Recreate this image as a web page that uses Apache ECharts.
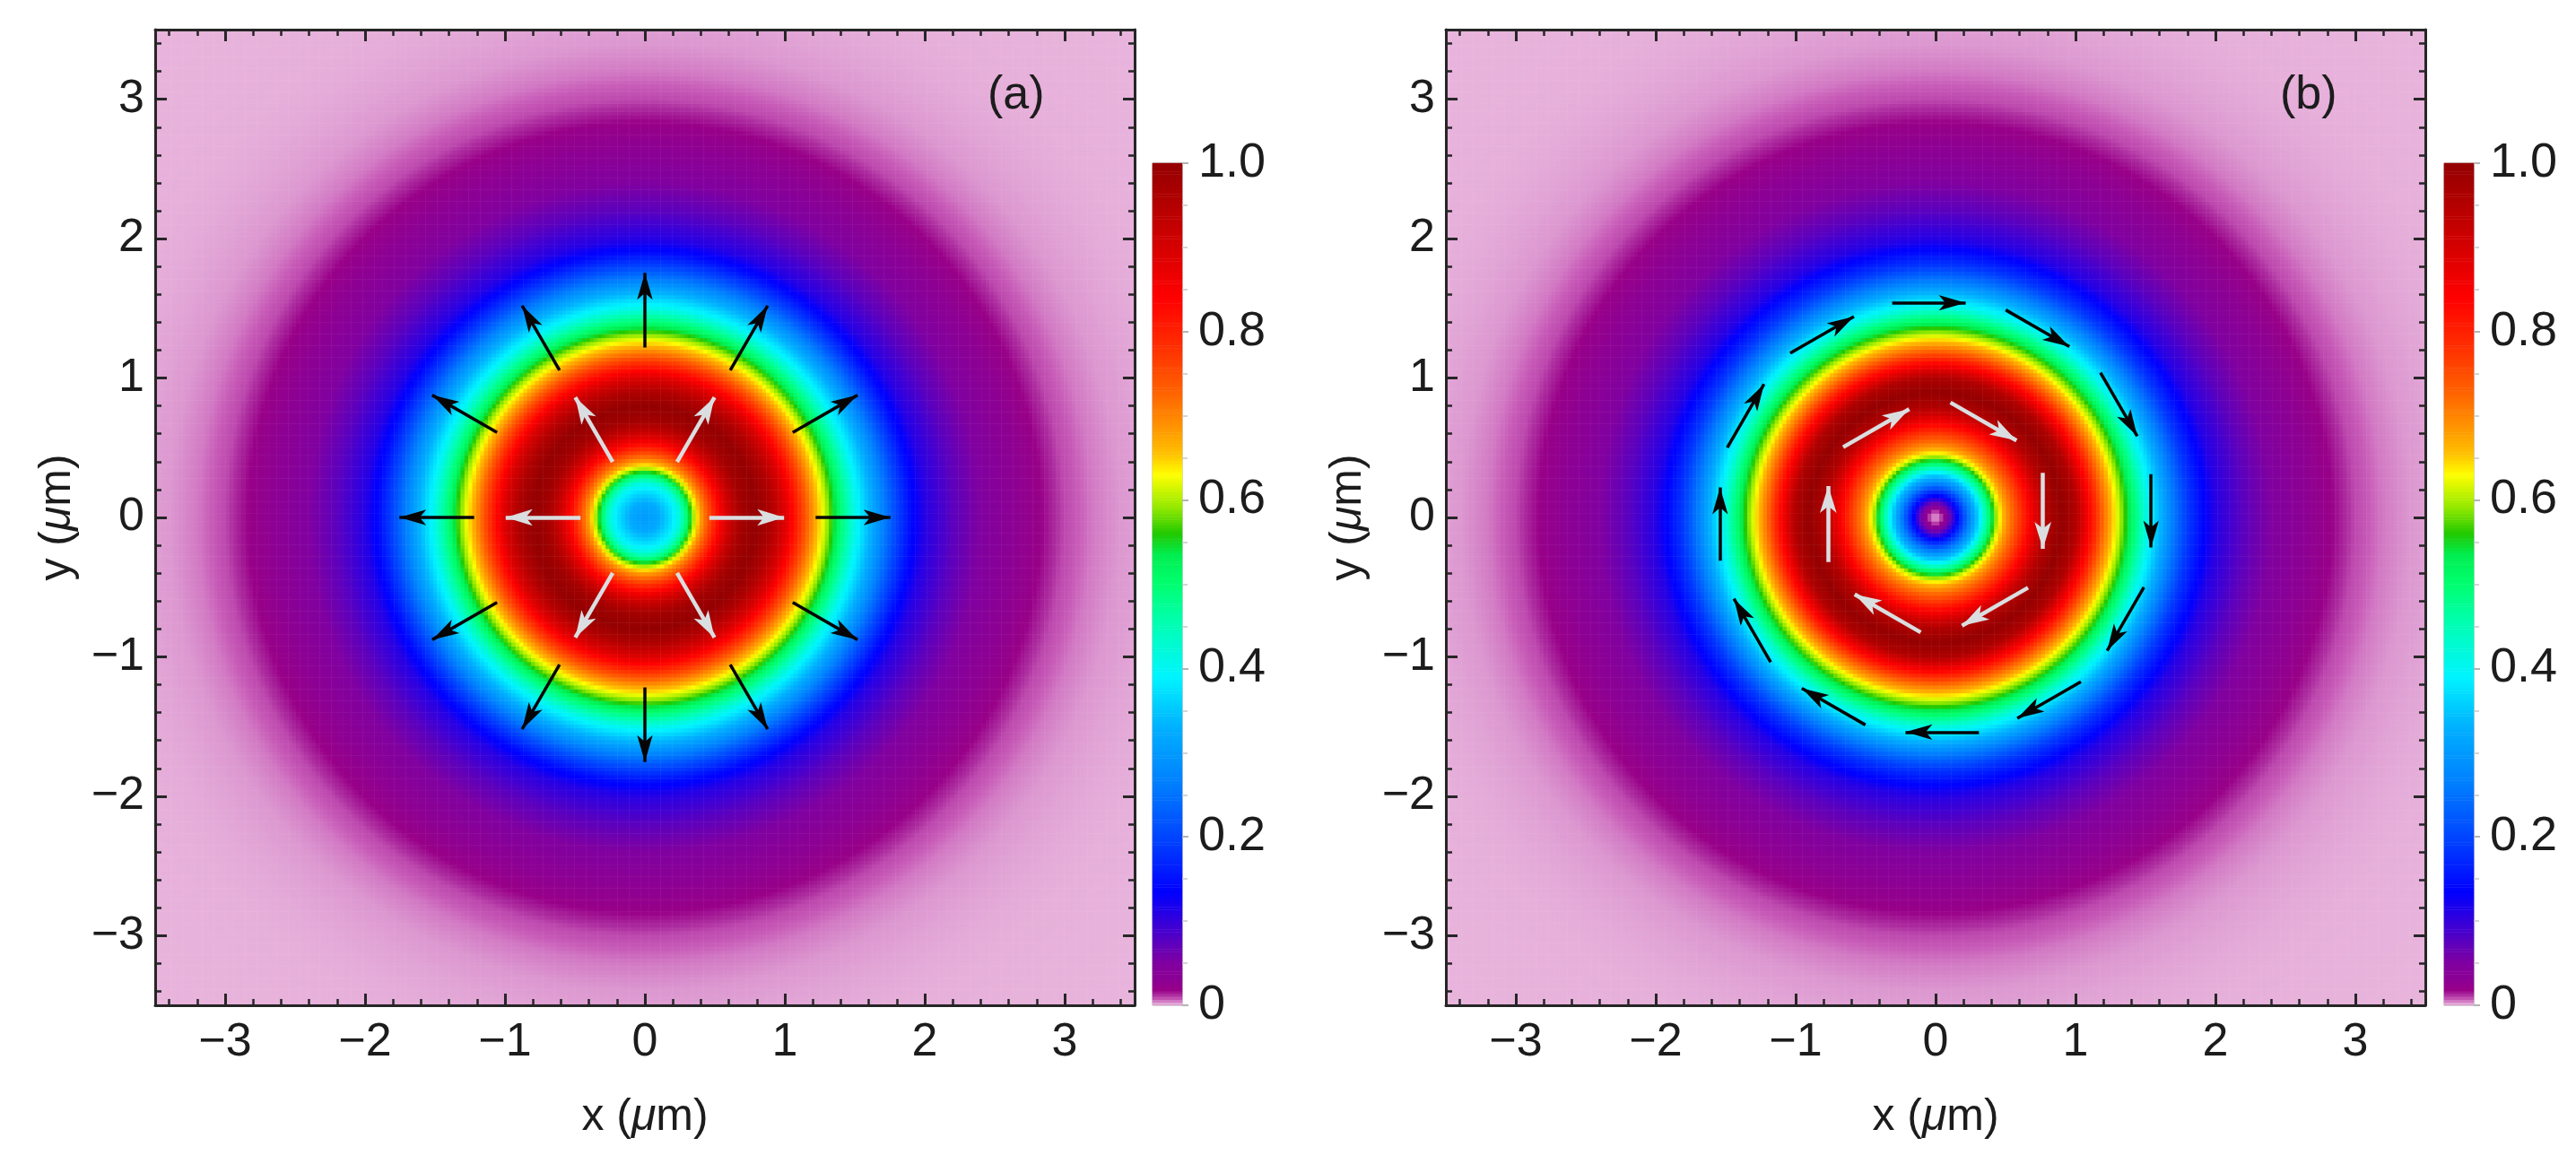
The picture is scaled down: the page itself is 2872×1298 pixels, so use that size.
<!DOCTYPE html>
<html>
<head>
<meta charset="utf-8">
<script src="https://cdn.jsdelivr.net/npm/echarts@6/dist/echarts.min.js"></script>
<style>
html, body { margin: 0; padding: 0; background: #fff; }
#chart { width: 2872px; height: 1298px; }
</style>
</head>
<body>
<div id="chart"></div>
<script>
// radial intensity profiles (r in um, normalised intensity)
var radiusA = [0, 0.1, 0.2, 0.25, 0.3, 0.35, 0.4, 0.45, 0.5, 0.55, 0.6, 0.65, 0.7, 0.8, 0.9, 1.0, 1.1, 1.2, 1.3, 1.4, 1.5, 1.6, 1.7, 1.8, 1.9, 2.0, 2.2, 2.4, 2.6, 2.8, 2.9, 3.0, 3.2, 3.4, 3.6, 3.8, 4.0, 4.4, 5.0];
var intensityA = [0.30, 0.32, 0.38, 0.42, 0.50, 0.60, 0.68, 0.74, 0.80, 0.86, 0.91, 0.95, 0.98, 1.0, 0.96, 0.89, 0.79, 0.69, 0.60, 0.50, 0.41, 0.34, 0.27, 0.20, 0.145, 0.11, 0.075, 0.05, 0.032, 0.02, 0.014, 0.009, 0.005, 0.003, 0.0018, 0.001, 0.0005, 0.0002, 0];

var radiusB = [0, 0.05, 0.1, 0.15, 0.2, 0.25, 0.3, 0.35, 0.4, 0.45, 0.5, 0.6, 0.7, 0.75, 0.8, 0.9, 1.0, 1.05, 1.1, 1.2, 1.3, 1.4, 1.5, 1.6, 1.7, 1.8, 1.9, 2.0, 2.2, 2.4, 2.6, 2.8, 2.9, 3.0, 3.2, 3.4, 3.6, 3.8, 4.0, 4.4, 5.0];
var intensityB = [0, 0.012, 0.06, 0.13, 0.20, 0.28, 0.35, 0.44, 0.53, 0.62, 0.68, 0.77, 0.87, 0.92, 0.96, 1.0, 0.96, 0.90, 0.84, 0.72, 0.62, 0.52, 0.42, 0.34, 0.26, 0.19, 0.145, 0.11, 0.075, 0.05, 0.032, 0.02, 0.014, 0.009, 0.005, 0.003, 0.0018, 0.001, 0.0005, 0.0002, 0];

// polarisation arrows
var outerAnglesA = [0, 30, 60, 90, 120, 150, 180, 210, 240, 270, 300, 330];
var outerRadiiA = [1.22, 1.85];          // tail, tip
var innerAnglesA = [0, 60, 120, 180, 240, 300];
var innerRadiiA = [0.46, 1.09];
var outerAnglesB = [90, 60, 30, 0, -30, -60, -90, -120, -150, 180, 150, 120];
var outerDistB = 1.54, outerHalfB = 0.31;  // distance of arrow centre, half length
var innerAnglesB = [60, 0, -60, -120, 180, 120];
var innerDistB = 0.767, innerHalfB = 0.32;

// ticks
var majorTicks = [-3, -2, -1, 0, 1, 2, 3];
var minorTicks = [-3.4, -3.2, -3, -2.8, -2.6, -2.4, -2.2, -2, -1.8, -1.6, -1.4, -1.2, -1, -0.8, -0.6, -0.4, -0.2, 0,
  0.2, 0.4, 0.6, 0.8, 1, 1.2, 1.4, 1.6, 1.8, 2, 2.2, 2.4, 2.6, 2.8, 3, 3.2, 3.4];

// colour scale
var colorStops = [
  [0, '#e8b4dc'], [0.003, '#dc98d0'], [0.007, '#c85cb8'], [0.012, '#ac2c9f'], [0.018, '#980088'],
  [0.03, '#8c0094'], [0.05, '#8000a0'], [0.09, '#4400d0'], [0.135, '#0000ff'], [0.195, '#0040ff'], [0.265, '#0080ff'],
  [0.33, '#00b0ff'], [0.39, '#00f4ff'], [0.455, '#00ffb0'], [0.50, '#00ff70'], [0.535, '#00ee50'],
  [0.56, '#20c800'], [0.59, '#90e800'], [0.63, '#ffff00'], [0.655, '#ffc000'], [0.69, '#ff9000'],
  [0.73, '#ff6000'], [0.78, '#ff3000'], [0.84, '#ff0000'], [0.92, '#c80000'], [1, '#940000']
];

var FONT = '"Liberation Sans", Arial, sans-serif';
var INK = '#1c1c1c';
var N = 250;       // heatmap cells per side
var BAR_N = 300;   // colour bar cells

function hex(c) { return [parseInt(c.substr(1, 2), 16), parseInt(c.substr(3, 2), 16), parseInt(c.substr(5, 2), 16)]; }
function paletteColor(v) {
  for (var k = 1; k < colorStops.length; k++) {
    if (v <= colorStops[k][0]) {
      var a = colorStops[k - 1], b = colorStops[k];
      var t = (v - a[0]) / (b[0] - a[0]);
      var ca = hex(a[1]), cb = hex(b[1]);
      return 'rgb(' + [0, 1, 2].map(function (i) { return Math.round(ca[i] + (cb[i] - ca[i]) * t); }).join(',') + ')';
    }
  }
  return colorStops[colorStops.length - 1][1];
}
var palette = [];
for (var p = 0; p <= 1000; p++) palette.push(paletteColor(p / 1000));

function profile(rs, vs, r) {
  if (r >= rs[rs.length - 1]) return vs[vs.length - 1];
  for (var k = 1; k < rs.length; k++) {
    if (r <= rs[k]) {
      var t = (r - rs[k - 1]) / (rs[k] - rs[k - 1]);
      return vs[k - 1] + (vs[k] - vs[k - 1]) * t;
    }
  }
}

var cats = [];
for (var c = 0; c < N; c++) cats.push(String(c));
function fieldData(rs, vs) {
  var out = [];
  for (var i = 0; i < N; i++) {
    var x = -3.5 + (i + 0.5) * 7 / N;
    for (var j = 0; j < N; j++) {
      var y = -3.5 + (j + 0.5) * 7 / N;
      out.push([i, j, profile(rs, vs, Math.sqrt(x * x + y * y))]);
    }
  }
  return out;
}
var barCats = [];
var barData = [];
for (var b = 0; b < BAR_N; b++) { barCats.push(String(b)); barData.push([0, b, (b + 0.5) / BAR_N]); }

var TIP = 0.095; // half of the arrow head length, in um
function rad(a) { return a * Math.PI / 180; }
function radialArrows(angles, r) {
  return angles.map(function (a) {
    var c = Math.cos(rad(a)), s = Math.sin(rad(a));
    return { coords: [[r[0] * c, r[0] * s], [(r[1] - TIP) * c, (r[1] - TIP) * s]] };
  });
}
function tangentArrows(angles, d, half) {
  return angles.map(function (a) {
    var c = Math.cos(rad(a)), s = Math.sin(rad(a));
    var mx = d * c, my = d * s, dx = s, dy = -c;
    return { coords: [[mx - half * dx, my - half * dy], [mx + (half - TIP) * dx, my + (half - TIP) * dy]] };
  });
}

function fmt(v) { return v < 0 ? '\u2212' + Math.abs(v) : String(v); }
var lineCol = '#262626';
var labelStyle = { fontSize: 52, fontFamily: FONT, color: INK };
var nameRich = {
  t: { fontSize: 50, fontFamily: FONT, color: INK },
  m: { fontSize: 50, fontFamily: FONT, color: INK, fontStyle: 'italic' }
};

function valueAxis(g, pos, ticks, len, labels, name) {
  var horiz = pos === 'bottom' || pos === 'top';
  var ax = {
    type: 'value', gridIndex: g, position: pos, min: -3.5, max: 3.5, z: 10,
    axisLine: { show: len > 8, onZero: false, lineStyle: { color: lineCol, width: 3 } },
    axisTick: { show: true, inside: true, length: len, customValues: ticks, lineStyle: { color: lineCol, width: len > 8 ? 3 : 2.5 } },
    axisLabel: { show: labels, customValues: ticks, formatter: fmt, margin: horiz ? 16 : 12 },
    splitLine: { show: false }
  };
  Object.assign(ax.axisLabel, labelStyle);
  if (name) {
    ax.name = '{t|' + name + ' (}{m|\u03bc}{t|m)}';
    ax.nameLocation = 'middle';
    ax.nameGap = horiz ? 100 : 84;
    ax.nameTextStyle = { rich: nameRich };
  }
  return ax;
}

var grids = [
  { left: 173, top: 33, width: 1092, height: 1088 },
  { left: 1612, top: 33, width: 1092, height: 1088 },
  { left: 1285, top: 182, width: 33, height: 939, show: true, borderColor: '#a8a8a8', borderWidth: 1 },
  { left: 2725, top: 182, width: 33, height: 939, show: true, borderColor: '#a8a8a8', borderWidth: 1 }
];

var xAxes = [], yAxes = [];
[0, 1].forEach(function (g) {
  xAxes.push({ type: 'category', gridIndex: g, data: cats, show: false });
  xAxes.push(valueAxis(g, 'bottom', majorTicks, 13, true, 'x'));
  xAxes.push(valueAxis(g, 'bottom', minorTicks, 7, false));
  xAxes.push(valueAxis(g, 'top', majorTicks, 13, false));
  xAxes.push(valueAxis(g, 'top', minorTicks, 7, false));
  yAxes.push({ type: 'category', gridIndex: g, data: cats, show: false });
  yAxes.push(valueAxis(g, 'left', majorTicks, 13, true, 'y'));
  yAxes.push(valueAxis(g, 'left', minorTicks, 7, false));
  yAxes.push(valueAxis(g, 'right', majorTicks, 13, false));
  yAxes.push(valueAxis(g, 'right', minorTicks, 7, false));
});
[2, 3].forEach(function (g) {
  xAxes.push({ type: 'category', gridIndex: g, data: ['c'], show: false });
  yAxes.push({ type: 'category', gridIndex: g, data: barCats, show: false });
  yAxes.push({
    type: 'value', gridIndex: g, position: 'right', min: 0, max: 1, interval: 0.2, z: 10,
    axisLine: { show: false },
    axisTick: { show: true, length: 7, lineStyle: { color: '#b4b4b4', width: 2 } },
    minorTick: { show: true, splitNumber: 4, length: 6, lineStyle: { color: '#c8c8c8', width: 1.5 } },
    axisLabel: Object.assign({ margin: 18, formatter: function (v) { return v === 0 ? '0' : v.toFixed(1); } }, labelStyle, { fontSize: 54 }),
    splitLine: { show: false }
  });
});

function heat(xi, yi, data) {
  return {
    type: 'heatmap', xAxisIndex: xi, yAxisIndex: yi, data: data, silent: true,
    progressive: 0, progressiveThreshold: 1e9, itemStyle: { borderWidth: 0 }, emphasis: { disabled: true }
  };
}
function arrows(xi, data, color, width, head) {
  return {
    type: 'lines', coordinateSystem: 'cartesian2d', xAxisIndex: xi, yAxisIndex: xi, z: 5, silent: true,
    symbol: ['none', 'arrow'], symbolSize: [0, head],
    lineStyle: { color: color, width: width, opacity: 1, curveness: 0 },
    data: data
  };
}

var chart = echarts.init(document.getElementById('chart'), null, { renderer: 'canvas' });
chart.setOption({
  animation: false,
  backgroundColor: '#ffffff',
  title: [
    { text: '(a)', left: 1096, top: 76, textStyle: { fontSize: 52, fontWeight: 'normal', fontFamily: FONT, color: INK } },
    { text: '(b)', left: 2537, top: 76, textStyle: { fontSize: 52, fontWeight: 'normal', fontFamily: FONT, color: INK } }
  ],
  visualMap: { type: 'continuous', show: false, min: 0, max: 1, seriesIndex: [0, 1, 2, 3], inRange: { color: palette } },
  grid: grids,
  xAxis: xAxes,
  yAxis: yAxes,
  series: [
    heat(0, 0, fieldData(radiusA, intensityA)),
    heat(5, 5, fieldData(radiusB, intensityB)),
    heat(10, 10, barData),
    heat(11, 12, barData),
    arrows(1, radialArrows(outerAnglesA, outerRadiiA), '#050505', 3.5, [13, 30]),
    arrows(1, radialArrows(innerAnglesA, innerRadiiA), '#dadee0', 4.5, [14, 30]),
    arrows(6, tangentArrows(outerAnglesB, outerDistB, outerHalfB), '#050505', 3.5, [13, 30]),
    arrows(6, tangentArrows(innerAnglesB, innerDistB, innerHalfB), '#dadee0', 4.5, [14, 30])
  ]
});
</script>
</body>
</html>
